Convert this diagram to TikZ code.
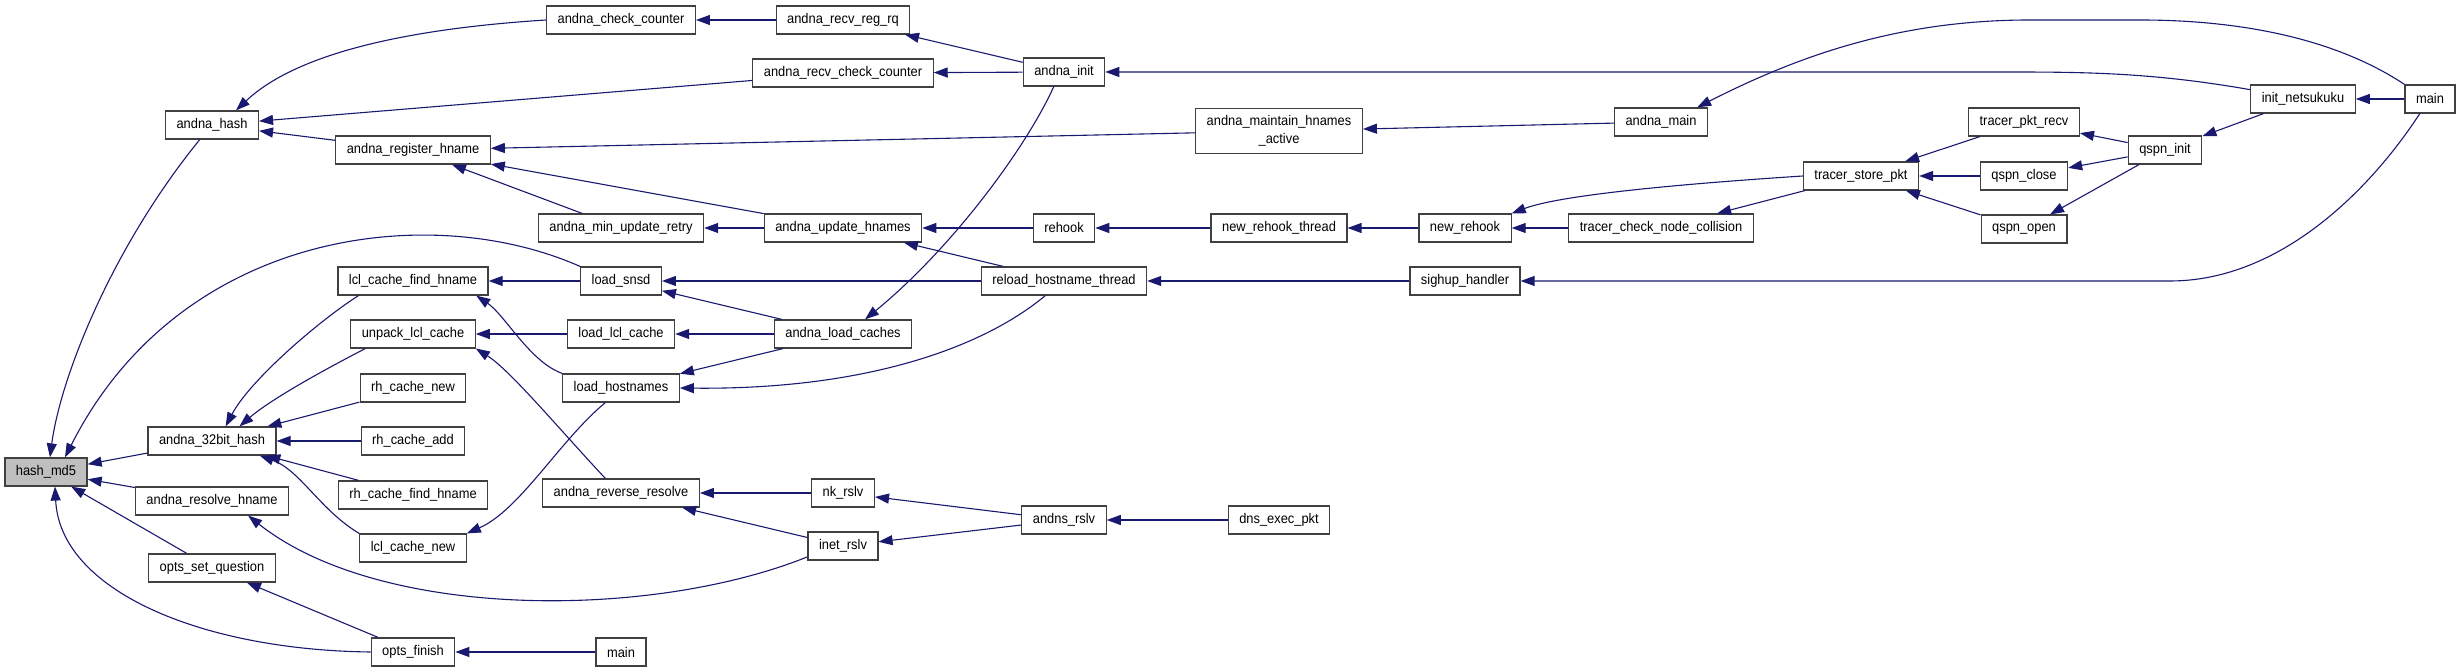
\documentclass[tikz,border=0pt]{standalone}
\usepackage{fontspec}
\usepackage{tikz}
\usetikzlibrary{arrows.meta}
\newfontfamily\dxfont{Liberation Sans}[FakeStretch=0.92]
\definecolor{edgeblue}{RGB}{25,25,112}
\definecolor{boxgray}{RGB}{191,191,191}
\definecolor{boxline}{RGB}{64,64,64}

\begin{document}
\begin{tikzpicture}[x=0.5pt, y=0.5pt,
  fn/.style={
    rectangle, draw=boxline, fill=white, line width=0.6pt,
    minimum height=14pt, inner xsep=5.5pt, inner ysep=0pt,
    align=center, font=\dxfont\fontsize{7}{9}\selectfont
  },
  root/.style={fn, fill=boxgray},
  arr/.style={-{Triangle[length=7pt, width=5pt]}, draw=edgeblue, line width=0.55pt}
]
  \useasboundingbox (0,0) rectangle (2461,-672);

  % Function that is called
  \node[root] (md5) at (46,-472) {hash\_md5};

  % Direct callers
  \node[fn] (ahash)    at (212,-125) {andna\_hash};
  \node[fn] (a32)      at (212,-441) {andna\_32bit\_hash};
  \node[fn] (aresolve) at (212,-501) {andna\_resolve\_hname};
  \node[fn] (optsq)    at (212,-568) {opts\_set\_question};

  % Second level
  \node[fn] (regh)    at (413,-150) {andna\_register\_hname};
  \node[fn] (lclfind) at (413,-281) {lcl\_cache\_find\_hname};
  \node[fn] (unpack)  at (413,-334) {unpack\_lcl\_cache};
  \node[fn] (rhnew)   at (413,-388) {rh\_cache\_new};
  \node[fn] (rhadd)   at (413,-441) {rh\_cache\_add};
  \node[fn] (rhfind)  at (413,-495) {rh\_cache\_find\_hname};
  \node[fn] (lclnew)  at (413,-548) {lcl\_cache\_new};
  \node[fn] (optsfin) at (413,-652) {opts\_finish};

  % Third level
  \node[fn] (chkctr)   at (621,-20)  {andna\_check\_counter};
  \node[fn] (minupd)   at (621,-228) {andna\_min\_update\_retry};
  \node[fn] (snsd)     at (621,-281) {load\_snsd};
  \node[fn] (loadlcl)  at (621,-334) {load\_lcl\_cache};
  \node[fn] (loadhost) at (621,-388) {load\_hostnames};
  \node[fn] (revres)   at (621,-493) {andna\_reverse\_resolve};
  \node[fn] (optmain)  at (621,-652) {main};

  % Fourth level
  \node[fn] (recvreg)  at (843,-20)  {andna\_recv\_reg\_rq};
  \node[fn] (recvchk)  at (843,-73)  {andna\_recv\_check\_counter};
  \node[fn] (updh)     at (843,-228) {andna\_update\_hnames};
  \node[fn] (loadc)    at (843,-334) {andna\_load\_caches};
  \node[fn] (nkrslv)   at (843,-493) {nk\_rslv};
  \node[fn] (inetrslv) at (843,-546) {inet\_rslv};

  % Fifth level
  \node[fn] (ainit)  at (1064,-72)  {andna\_init};
  \node[fn] (rehook) at (1064,-228) {rehook};
  \node[fn] (reload) at (1064,-281) {reload\_hostname\_thread};
  \node[fn] (andns)  at (1064,-520) {andns\_rslv};

  % Sixth level
  \node[fn, minimum height=22.5pt] (maint) at (1279,-131) {andna\_maintain\_hnames\\\_active};
  \node[fn] (newrt)   at (1279,-228) {new\_rehook\_thread};
  \node[fn] (dnsexec) at (1279,-520) {dns\_exec\_pkt};

  % Right part: rehook and qspn side
  \node[fn] (newrh)   at (1465,-228) {new\_rehook};
  \node[fn] (sighup)  at (1465,-281) {sighup\_handler};
  \node[fn] (amain)   at (1661,-122) {andna\_main};
  \node[fn] (collide) at (1661,-228) {tracer\_check\_node\_collision};
  \node[fn] (store)   at (1861,-176) {tracer\_store\_pkt};
  \node[fn] (pktrecv) at (2024,-122) {tracer\_pkt\_recv};
  \node[fn] (qclose)  at (2024,-176) {qspn\_close};
  \node[fn] (qopen)   at (2024,-229) {qspn\_open};
  \node[fn] (qinit)   at (2165,-150) {qspn\_init};
  \node[fn] (initnk)  at (2303,-99)  {init\_netsukuku};
  \node[fn] (main)    at (2430,-99)  {main};

  % Calls into hash_md5
  \draw[arr] (ahash.-130) .. controls (110,-250) and (60,-380) .. ([xshift=2pt]md5.north);
  \draw[arr] (snsd.north west) .. controls (430,-200) and (180,-230) .. ([xshift=9.5pt]md5.north);
  \draw[arr] (a32) -- (md5);
  \draw[arr] (aresolve) -- (md5);
  \draw[arr] (optsq) -- (md5);
  \draw[arr] (optsfin.west) .. controls (200,-650) and (60,-590) .. ([xshift=4.5pt]md5.south);

  % Calls into andna_hash and andna_register_hname
  \draw[arr] (chkctr.west) .. controls (420,-28) and (300,-50) .. ([xshift=12pt]ahash.north);
  \draw[arr] (recvchk) -- (ahash);
  \draw[arr] (regh) -- (ahash);
  \draw[arr] (recvreg) -- (chkctr);
  \draw[arr] (ainit) -- (recvreg);
  \draw[arr] (ainit) -- (recvchk);
  \draw[arr] (maint) -- (regh);
  \draw[arr] (minupd) -- (regh);
  \draw[arr] (updh) -- (regh);
  \draw[arr] (updh) -- (minupd);

  % Rehook chain
  \draw[arr] (rehook) -- (updh);
  \draw[arr] (reload) -- (updh);
  \draw[arr] (newrt) -- (rehook);
  \draw[arr] (newrh) -- (newrt);
  \draw[arr] (store.west) .. controls (1680,-184) and (1560,-195) .. (newrh.north east);
  \draw[arr] (collide) -- (newrh);
  \draw[arr] (store) -- (collide);
  \draw[arr] (pktrecv) -- (store);
  \draw[arr] (qclose) -- (store);
  \draw[arr] (qopen) -- (store);
  \draw[arr] (qinit) -- (pktrecv);
  \draw[arr] (qinit) -- (qclose);
  \draw[arr] (qinit) -- (qopen);
  \draw[arr] (initnk) -- (qinit);
  \draw[arr] (main) -- (initnk);

  % Long edges from the far right
  \draw[arr] (initnk.170) .. controls (2150,-72) and (2080,-72) .. (2000,-72) -- (ainit.east);
  \draw[arr] (main.north west) .. controls (2330,-35) and (2230,-20) .. (2140,-20) -- (2030,-20)
        .. controls (1900,-20) and (1800,-55) .. (amain.22);
  \draw[arr] (amain) -- (maint);
  \draw[arr] (main.-125) .. controls (2370,-190) and (2280,-281) .. (2170,-281) -- (sighup.east);

  % Cache loading
  \draw[arr] (sighup) -- (reload);
  \draw[arr] (reload) -- (snsd);
  \draw[arr] (reload.-142) .. controls (980,-350) and (860,-390) .. (loadhost.east);
  \draw[arr] (loadc) -- (snsd);
  \draw[arr] (loadc) -- (loadlcl);
  \draw[arr] (loadc) -- (loadhost);
  \draw[arr] (ainit.-125) .. controls (1025,-150) and (950,-250) .. ([xshift=11pt]loadc.north);
  \draw[arr] (snsd) -- (lclfind);
  \draw[arr] (loadlcl) -- (unpack);
  \draw[arr] (loadhost.north west) .. controls (530,-362) and (505,-315) .. (lclfind.-13);
  \draw[arr] (loadhost.-137) .. controls (560,-440) and (520,-510) .. (lclnew.north east);
  \draw[arr] (revres.137) .. controls (560,-430) and (510,-370) .. (unpack.-13);

  % Calls into andna_32bit_hash
  \draw[arr] (lclfind.-165) .. controls (320,-320) and (250,-380) .. (a32.47);
  \draw[arr] (unpack.-163) .. controls (320,-372) and (270,-400) .. (a32.28);
  \draw[arr] (rhnew) -- (a32);
  \draw[arr] (rhadd) -- (a32);
  \draw[arr] (rhfind) -- (a32);
  \draw[arr] (lclnew.north west) .. controls (320,-510) and (300,-470) .. (a32.-17);

  % Resolver side
  \draw[arr] (nkrslv) -- (revres);
  \draw[arr] (inetrslv) -- (revres);
  \draw[arr] (inetrslv.-163) .. controls (650,-620) and (380,-620) .. (aresolve.-22);
  \draw[arr] (andns) -- (nkrslv);
  \draw[arr] (andns) -- (inetrslv);
  \draw[arr] (dnsexec) -- (andns);

  % opts
  \draw[arr] (optsfin) -- (optsq);
  \draw[arr] (optmain) -- (optsfin);
\end{tikzpicture}
\end{document}
